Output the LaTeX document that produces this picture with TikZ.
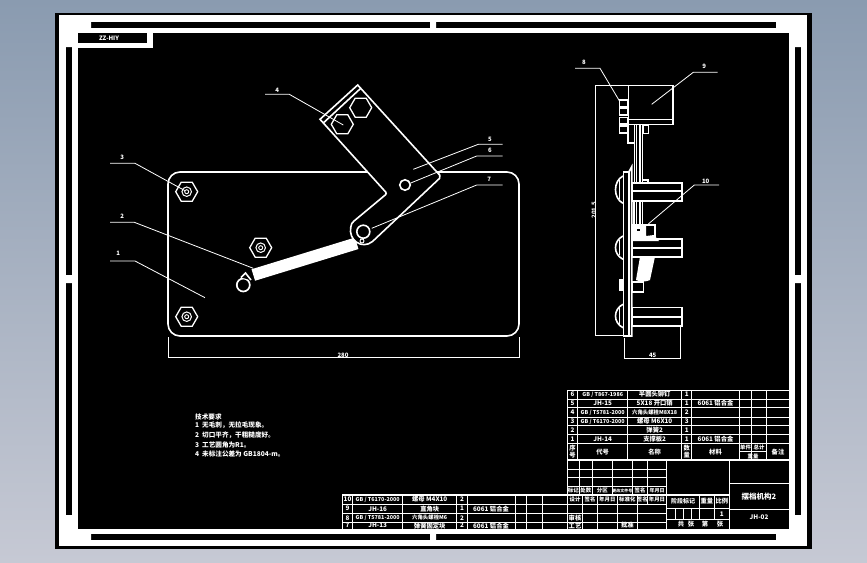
\documentclass[tikz,border=0pt]{standalone}
\usepackage{fontspec}
\setmainfont{Noto Sans CJK SC}
\newcommand\leaderline[6]{%
  \node[labeltxt] (#1) at (#3) {#2};
  \coordinate (#1a) at (#4);
  \coordinate (#1b) at (#5);
  \coordinate (#1c) at (#6);
  \draw[thinw] (#1a) -- (#1b) -- (#1c);}
\tikzset{
  wline/.style={draw=white,line width=1.6pt},
  thinw/.style={draw=white,line width=0.8pt},
  gridw/.style={draw=white,line width=1pt},
  boldw/.style={draw=white,line width=1.4pt},
  labeltxt/.style={text=white,font=\fontsize{6}{6}\selectfont\bfseries,inner sep=0pt},
  celltxt/.style={text=white,font=\fontsize{6.3}{6.3}\selectfont\bfseries,inner sep=0pt},
  smalltxt/.style={text=white,font=\fontsize{5.4}{5.4}\selectfont\bfseries,inner sep=0pt},
  notetxt/.style={text=white,font=\fontsize{6.6}{10}\selectfont\bfseries,inner sep=0pt,anchor=west},
  hexnut/.style={regular polygon,regular polygon sides=6,draw=white,fill=black,line width=1.3pt,minimum size=22pt,inner sep=0pt},
  ring/.style={circle,draw=white,fill=black,inner sep=0pt}
}
\usetikzlibrary{shapes.geometric}
\begin{document}
\begin{tikzpicture}[x=1pt,y=-1pt]
\useasboundingbox (0,0) rectangle (867,562);
\fill[top color={rgb,255:red,138;green,155;blue,176},bottom color={rgb,255:red,198;green,201;blue,212}] (0,0) rectangle (867,562);
% frame
\fill[black] (55,13) rectangle (812,549);
\fill[white] (59,15) rectangle (807,546);
\fill[black] (66,22) rectangle (801,540);
\fill[white] (66,22) rectangle (91,28) (66,22) rectangle (72,47)
  (776,22) rectangle (801,28) (795,22) rectangle (801,47)
  (66,534) rectangle (91,540) (66,515) rectangle (72,540)
  (776,534) rectangle (801,540) (795,515) rectangle (801,540)
  (430,22) rectangle (436,28) (430,534) rectangle (436,540)
  (66,275) rectangle (72,283) (795,275) rectangle (801,283);
\fill[white] (72,28) rectangle (795,534);
\fill[black] (78,33) rectangle (789,529);
\fill[white] (78,33) rectangle (153,48);
\fill[black] (78,33) rectangle (147,43);
\node[labeltxt] (drawingno) at (109,38) {ZZ-HIY};
% plate
\draw[wline,rounded corners=12pt] (168,172) rectangle (519,336);
% spring
\coordinate (sprA) at (253.3,275);
\coordinate (sprB) at (356.7,243.3);
\draw[white,line width=12pt] (sprA) -- (sprB);
\node[ring,line width=1.7pt,minimum size=13pt] (hook) at (243.3,285) {};
\draw[wline,fill=black] (251,280) -- (245.5,273) -- (241,277.5);
% arm
\draw[wline,fill=black] (357.7,85) -- (440,175.5) [rounded corners=2pt] -- (441,177) [sharp corners] -- (372.5,241.5)
  .. controls (362,250) and (348,240) .. (350.8,227) .. controls (351,224) and (352,223) .. (354,221)
  [rounded corners=2pt] -- (387,193.5) [sharp corners] -- (320,119.3) -- cycle;
\draw[wline] (323.5,122.8) -- (360.5,88.5);
\node[hexnut] (bolta) at (342.3,124.3) {};
\node[hexnut] (boltb) at (360.7,107.7) {};
\node[ring,line width=1.6pt,minimum size=10.5pt] (pin) at (405,185) {};
\node[ring,line width=1.6pt,minimum size=13pt] (pivot) at (363.3,231.7) {};
\node[ring,line width=0.9pt,minimum size=4pt] (pivotb) at (362,241) {};
% nuts
\foreach \nm/\p in {nuta/{186.7,191.7},nutb/{260.7,247.7},nutc/{186.7,316.7}}{
  \node[hexnut] (\nm) at (\p) {};
  \node[ring,line width=1pt,minimum size=9.5pt] at (\p) {};
  \node[ring,line width=0.9pt,minimum size=4pt] at (\p) {};
}
% dimension 280
\coordinate (dA) at (168,357.7);
\coordinate (dB) at (519,357.7);
\draw[thinw] (168,337) -- (dA) (519,337) -- (dB);
\draw[thinw] (dA) -- (dB);
\node[labeltxt] (dimw) at (343,355.5) {280};
% leaders
\leaderline{l4}{4}{277.3,90}{265,94.3}{289.3,94.3}{343.3,125}
\leaderline{l3}{3}{122.3,157}{110,163.3}{135,163.3}{185,190.7}
\leaderline{l2}{2}{122.3,216.7}{110,222.3}{134.3,222.3}{253.3,268.3}
\leaderline{l1}{1}{118.3,253.3}{110,261}{135,261}{205,297.7}
\leaderline{l5}{5}{490,139}{502.7,144.3}{478.3,144.3}{413.3,169.3}
\leaderline{l6}{6}{490,150.7}{502.7,156}{476.7,156}{410,183.3}
\leaderline{l7}{7}{489.3,179}{502.7,185}{476.7,185}{371.7,228.3}
% side view
\draw[wline] (628.3,85.5) rectangle (673,124.5);
\draw[wline] (628.3,119.5) -- (673,119.5);
\foreach \ya/\yb in {100/107,108.5/115,117.5/124,126/133}{\draw[wline] (619.5,\ya) rectangle (627.7,\yb);}
\draw[wline] (627.7,124.5) -- (627.7,143) -- (634,143);
\draw[thinw] (634,125) -- (634,183) (636.5,125) -- (636.5,183);
\draw[wline] (640,125) -- (640,183) (642.3,125) -- (642.3,183);
\draw[wline] (642.7,125) rectangle (648.3,133.3);
\draw[wline] (641.7,180) -- (648,180) -- (648,183);
\draw[wline] (634,201) -- (634,225) (636.5,201) -- (636.5,225) (640,201) -- (640,225) (642.3,201) -- (642.3,225);
% main vertical plate
\draw[wline] (623.5,171.7) -- (629,171.7) -- (629,336) -- (623.5,336) -- cycle;
\draw[wline] (629,171.7) -- (631.7,166.7) -- (631.7,336) -- (629,336);
% cross bars
\foreach \ya/\ym/\yb in {182.7/191/201,239/247.7/256.7,307.3/316.8/325.7}{
  \draw[wline,fill=black] (631.7,\ya) rectangle (681.7,\yb);
  \draw[white,line width=2.2pt] (631.7,\ym) -- (681.7,\ym);
}
% domes
\foreach \ya/\yb in {176/203.3,236/259.3,304.3/327.7}{
  \draw[white,line width=1.6pt] (623,\ya) .. controls (613,\ya+5) and (613,\yb-5) .. (623,\yb);
  \draw[white,line width=0.7pt] (619,\ya+4) -- (619,\yb-4);
}
% lower blocks
\fill[white] (631.7,225) -- (646,225) -- (646,236) -- (654,235) -- (659,241) -- (631.7,241) -- cycle;
\draw[wline] (631.7,225) -- (655,225) -- (655,237);
\fill[black] (637,229) rectangle (640,231);
\fill[white] (640,256.7) -- (655,256.7) -- (650,280) .. controls (646,282) and (640,282) .. (636,280) -- cycle;
\draw[wline,fill=black] (631.7,281.7) rectangle (643.3,291.7);
\draw[wline,fill=white] (620,280) rectangle (622.5,290);
% side dimensions
\coordinate (hA) at (595.7,85);
\coordinate (hB) at (595.7,335);
\draw[thinw] (628,85) -- (hA) -- (hB) -- (623,335);
\node[labeltxt,rotate=90] (dimh) at (594,210) {201.5};
\coordinate (wA) at (624.3,358.3);
\coordinate (wB) at (680,358.3);
\draw[thinw] (624.3,338) -- (wA) -- (wB) -- (680,327);
\node[labeltxt] (dims) at (652.7,355.5) {45};
\leaderline{l8}{8}{584,62.7}{575,68.3}{600,68.3}{619.3,100.7}
\leaderline{l9}{9}{704.3,66.7}{717.7,72.3}{693.3,72.3}{651.7,104.3}
\leaderline{l10}{10}{705.7,181}{719,185}{694.3,185}{648.3,224}
% notes
\node[notetxt] (n0) at (195,416.5) {技术要求};
\node[notetxt] (n1) at (195,425.5) {1\ \ 无毛刺，无拉毛现象。};
\node[notetxt] (n2) at (195,435) {2\ \ 切口平齐，干粗糙度好。};
\node[notetxt] (n3) at (195,444.5) {3\ \ 工艺圆角为R1。};
\node[notetxt] (n4) at (195,453.5) {4\ \ 未标注公差为 GB1804-m。};
% parts list, right
\foreach \y in {390,399,407.7,417,425.7,434.3,443.3}{\draw[gridw] (567.3,\y) -- (789.3,\y);}
\draw[boldw] (567.3,460) -- (789.3,460);
\foreach \x in {567.3,577.7,627.7,681.7,691.7,739.3,751.7,766.7}{\draw[gridw] (\x,390) -- (\x,460);}
\draw[gridw] (739.3,451.7) -- (766.7,451.7);
% lower grid
\foreach \y in {469,477.7,486,495}{\draw[gridw] (567.3,\y) -- (666.7,\y);}
\foreach \x in {567.3,579.3,592.3,612.3,632.3,647.7,666.7}{\draw[gridw] (\x,460) -- (\x,495);}
\draw[boldw] (342.3,495) -- (729.3,495);
\foreach \y in {504,513.3,522.3}{\draw[gridw] (342.3,\y) -- (666.7,\y);}
\foreach \x in {342.3,352.7,402.7,456.7,467.3,515,526.7,542.3,567.3}{\draw[gridw] (\x,495) -- (\x,529);}
\foreach \x in {582.7,597.3,617.3,637.3,666.7}{\draw[gridw] (\x,495) -- (\x,529);}
\draw[gridw] (647.3,495) -- (647.3,504);
\draw[gridw] (729.3,460) -- (729.3,529);
\draw[gridw] (729.3,483.3) -- (789.3,483.3);
\draw[gridw] (729.3,509) -- (789.3,509);
\draw[gridw] (666.7,508.3) -- (729.3,508.3);
\draw[gridw] (666.7,519.3) -- (729.3,519.3);
\foreach \x in {675,683.3,691.7,699.3,714.3}{\draw[gridw] (\x,508.3) -- (\x,519.3);}
\foreach \x in {699.3,714.3}{\draw[gridw] (\x,495) -- (\x,508.3);}
% right list text
\node[celltxt] (a61) at (572.5,394.5) {6};
\node[smalltxt] (a62) at (602.7,394.5) {GB / T867-1986};
\node[celltxt] (a63) at (654.7,394.5) {半圆头铆钉};
\node[celltxt] (a64) at (686.7,394.5) {1};
\node[celltxt] (a51) at (572.5,403.4) {5};
\node[celltxt] (a52) at (602.7,403.4) {JH-15};
\node[celltxt] (a53) at (654.7,403.4) {5X18 开口销};
\node[celltxt] (a54) at (686.7,403.4) {1};
\node[celltxt] (a55) at (715.5,403.4) {6061 铝合金};
\node[celltxt] (a41) at (572.5,412.3) {4};
\node[smalltxt] (a42) at (602.7,412.3) {GB / T5781-2000};
\node[smalltxt] (a43) at (654.7,412.3) {六角头螺栓M8X18};
\node[celltxt] (a44) at (686.7,412.3) {2};
\node[celltxt] (a31) at (572.5,421.3) {3};
\node[smalltxt] (a32) at (602.7,421.3) {GB / T6170-2000};
\node[celltxt] (a33) at (654.7,421.3) {螺母 M6X10};
\node[celltxt] (a34) at (686.7,421.3) {3};
\node[celltxt] (a21) at (572.5,430) {2};
\node[celltxt] (a23) at (654.7,430) {弹簧2};
\node[celltxt] (a24) at (686.7,430) {1};
\node[celltxt] (a11) at (572.5,438.8) {1};
\node[celltxt] (a12) at (602.7,438.8) {JH-14};
\node[celltxt] (a13) at (654.7,438.8) {支撑板2};
\node[celltxt] (a14) at (686.7,438.8) {1};
\node[celltxt] (a15) at (715.5,438.8) {6061 铝合金};
\node[celltxt,align=center,font=\fontsize{6.3}{7}\selectfont\bfseries] (h1) at (572.5,451.7) {序\\号};
\node[celltxt] (h2) at (602.7,451.7) {代号};
\node[celltxt] (h3) at (654.7,451.7) {名称};
\node[celltxt,align=center,font=\fontsize{6.3}{7}\selectfont\bfseries] (h4) at (686.7,451.7) {数\\量};
\node[celltxt] (h5) at (715.5,451.7) {材料};
\node[smalltxt] (h6) at (745.5,447.5) {单件};
\node[smalltxt] (h7) at (759,447.5) {总计};
\node[smalltxt] (h8) at (753,456) {重量};
\node[celltxt] (h9) at (778,451.7) {备注};
% left list text
\node[celltxt] (b101) at (347.5,499.5) {10};
\node[smalltxt] (b102) at (377.7,499.5) {GB / T6170-2000};
\node[celltxt] (b103) at (429.7,499.5) {螺母 M4X10};
\node[celltxt] (b104) at (462,499.5) {2};
\node[celltxt] (b91) at (347.5,508.7) {9};
\node[celltxt] (b92) at (377.7,508.7) {JH-16};
\node[celltxt] (b93) at (429.7,508.7) {直角块};
\node[celltxt] (b94) at (462,508.7) {1};
\node[celltxt] (b95) at (491,508.7) {6061 铝合金};
\node[celltxt] (b81) at (347.5,517.8) {8};
\node[smalltxt] (b82) at (377.7,517.8) {GB / T5781-2000};
\node[smalltxt] (b83) at (429.7,517.8) {六角头螺栓M6};
\node[celltxt] (b84) at (462,517.8) {2};
\node[celltxt] (b71) at (347.5,525.6) {7};
\node[celltxt] (b72) at (377.7,525.6) {JH-13};
\node[celltxt] (b73) at (429.7,525.6) {弹簧固定块};
\node[celltxt] (b74) at (462,525.6) {2};
\node[celltxt] (b75) at (491,525.6) {6061 铝合金};
% title block text
\node[smalltxt] (t1) at (573.3,490.5) {标记};
\node[smalltxt] (t2) at (585.8,490.5) {处数};
\node[smalltxt] (t3) at (602.3,490.5) {分区};
\node[smalltxt,font=\fontsize{4}{4}\selectfont\bfseries] (t4) at (622.3,490.5) {更改文件号};
\node[smalltxt] (t5) at (640,490.5) {签名};
\node[smalltxt,font=\fontsize{5}{5}\selectfont\bfseries] (t6) at (657.2,490.5) {年月日};
\node[smalltxt] (t7) at (575,499.5) {设计};
\node[smalltxt] (t8) at (590,499.5) {签名};
\node[smalltxt] (t9) at (607.3,499.5) {年月日};
\node[smalltxt] (t10) at (627.3,499.5) {标准化};
\node[smalltxt] (t11) at (642.3,499.5) {签名};
\node[smalltxt] (t12) at (657,499.5) {年月日};
\node[smalltxt,font=\fontsize{6}{6}\selectfont\bfseries] (t13) at (683,501.5) {阶段标记};
\node[celltxt] (t14) at (706.8,501.5) {重量};
\node[celltxt] (t15) at (721.8,501.5) {比例};
\node[celltxt] (t16) at (721.8,513.8) {1};
\node[celltxt] (t17) at (575,517.8) {审核};
\node[celltxt] (t18) at (575,525.6) {工艺};
\node[celltxt] (t19) at (627.3,525.6) {批准};
\node[celltxt] (t20) at (681,524.5) {共};
\node[celltxt] (t21) at (691,524.5) {张};
\node[celltxt] (t22) at (705,524.5) {第};
\node[celltxt] (t23) at (720,524.5) {张};
\node[celltxt,font=\fontsize{7.5}{7.5}\selectfont\bfseries] (title) at (759,496.5) {摆档机构2};
\node[celltxt] (drawing) at (759,517.5) {JH-02};
\end{tikzpicture}
\end{document}
